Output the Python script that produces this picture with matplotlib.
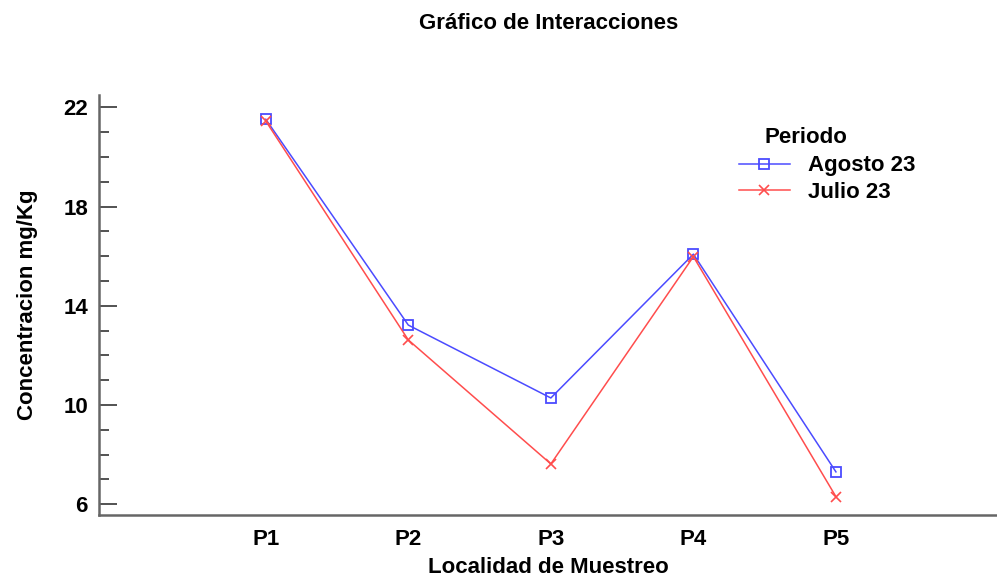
import matplotlib
matplotlib.use("Agg")
import matplotlib.pyplot as plt
from matplotlib.ticker import MultipleLocator

plt.rcParams["font.family"] = ["Liberation Sans", "DejaVu Sans"]
plt.rcParams["font.weight"] = "bold"

localidades = ["P1", "P2", "P3", "P4", "P5"]
agosto = [21.52, 13.22, 10.28, 16.08, 7.30]
julio = [21.45, 12.62, 7.62, 15.98, 6.30]

BLUE = "#4b4bff"
RED = "#ff4d4d"
FS = 16

fig = plt.figure(figsize=(9.97, 5.79), dpi=100)
ax = fig.add_axes([0.0993, 0.1105, 0.9007, 0.7255])

x = list(range(1, len(localidades) + 1))
ax.plot(x, agosto, color=BLUE, lw=1.1, marker="s", ms=6.5,
        mfc="none", mec=BLUE, mew=1.3, label="Agosto 23")
ax.plot(x, julio, color=RED, lw=1.1, marker="x", ms=7.5,
        mec=RED, mew=1.2, label="Julio 23")

ax.set_xlim(-0.17, 6.13)
ax.set_ylim(5.56, 22.5)
ax.set_xticks(x)
ax.set_xticklabels(localidades)
ax.set_yticks([6, 10, 14, 18, 22])
ax.yaxis.set_minor_locator(MultipleLocator(1))

for side in ("top", "right"):
    ax.spines[side].set_visible(False)
for side in ("left", "bottom"):
    ax.spines[side].set_color("#666666")
    ax.spines[side].set_linewidth(1.8)

ax.tick_params(axis="x", length=0, pad=10, labelsize=FS)
ax.tick_params(axis="y", which="major", direction="in", length=13,
               width=1.3, color="#444444", labelsize=FS, pad=8)
ax.tick_params(axis="y", which="minor", direction="in", length=7,
               width=1.3, color="#444444")

ax.set_xlabel("Localidad de Muestreo", fontsize=FS, fontweight="bold",
              labelpad=5)
ax.set_ylabel("Concentracion mg/Kg", fontsize=FS, fontweight="bold",
              labelpad=18)
fig.suptitle("Gráfico de Interacciones", x=0.55, y=0.977,
             fontsize=FS, fontweight="bold")

leg = fig.legend(*ax.get_legend_handles_labels(), loc="upper left",
                 bbox_to_anchor=(0.730, 0.751), frameon=False,
                 fontsize=FS, handlelength=2.3, borderpad=0,
                 labelspacing=0.25, handletextpad=0.8)
fig.text(0.767, 0.763, "Periodo", fontsize=FS, fontweight="bold",
         ha="left", va="center")

fig.savefig("out.png", dpi=100)
